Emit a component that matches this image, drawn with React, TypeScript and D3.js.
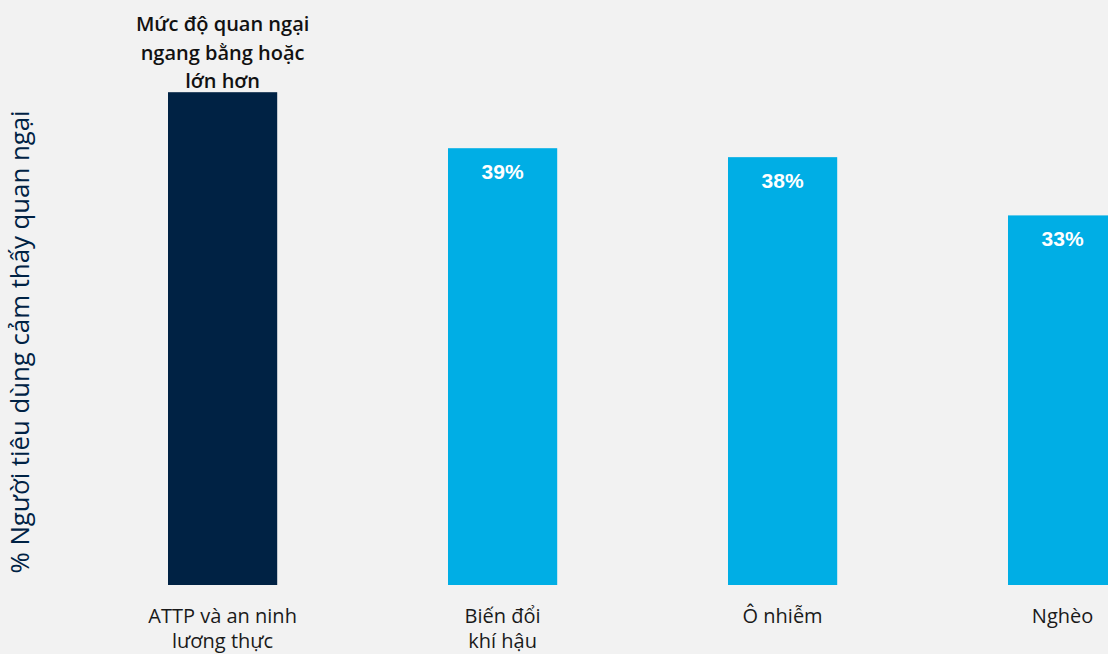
import React from "react";
import * as d3 from "d3";

const categories = ["ATTP và an ninh lương thực", "Biến đổi khí hậu", "Ô nhiễm", "Nghèo"];
const categoryLines = [["ATTP và an ninh", "lương thực"], ["Biến đổi", "khí hậu"], ["Ô nhiễm"], ["Nghèo"]];
const values = [44, 39, 38.2, 33];
const showValue = [false, true, true, true];
const highlight = [true, false, false, false];
const annotationLines = ["Mức độ quan ngại", "ngang bằng hoặc", "lớn hơn"];
const yTitle = "% Người tiêu dùng cảm thấy quan ngại";

const W = 1108;
const H = 654;
const BG = "#f2f2f2";
const DARK = "#002244";
const LIGHT = "#00aee5";

export default function App() {
  const x = d3.scaleBand<string>().domain(categories).range([82.6, 1202.6]).paddingInner(0.61).paddingOuter(0.305);
  const y = d3.scaleLinear().domain([0, 50]).range([585, 25]);
  const fmt = (v: number) => `${Math.round(v)}%`;
  const labelFont = "'Open Sans', 'Noto Sans', sans-serif";

  return (
    <svg width={W} height={H} style={{ position: "absolute", left: 0, top: 0, background: BG }}>
      <rect x={0} y={0} width={W} height={H} fill={BG} />
      <text
        transform={`translate(29,342) rotate(-90)`}
        textAnchor="middle"
        fontFamily={labelFont}
        fontSize={26}
        fill="#002244"
        textLength={463}
        lengthAdjust="spacingAndGlyphs"
      >
        {yTitle}
      </text>
      {categories.map((c, i) => {
        const bx = x(c)!;
        const bw = x.bandwidth();
        const cx = bx + bw / 2;
        const top = y(values[i]);
        return (
          <g key={c}>
            <rect x={bx} y={top} width={bw} height={y(0) - top} fill={highlight[i] ? DARK : LIGHT} />
            {showValue[i] && (
              <text x={cx} y={top + 31} textAnchor="middle" fontFamily="'Liberation Sans', Arial, sans-serif" fontWeight="bold" fontSize={21} fill="#ffffff">
                {fmt(values[i])}
              </text>
            )}
            {categoryLines[i].map((ln, j) => (
              <text key={j} x={cx} y={623 + j * 25} textAnchor="middle" fontFamily={labelFont} fontSize={20} fill="#1a1a1a">
                {ln}
              </text>
            ))}
            {highlight[i] &&
              annotationLines.map((ln, j) => (
                <text key={"a" + j} x={cx} y={top - 61 + j * 28.5} textAnchor="middle" fontFamily={labelFont} fontWeight={600} fontSize={20} fill="#111111">
                  {ln}
                </text>
              ))}
          </g>
        );
      })}
    </svg>
  );
}
